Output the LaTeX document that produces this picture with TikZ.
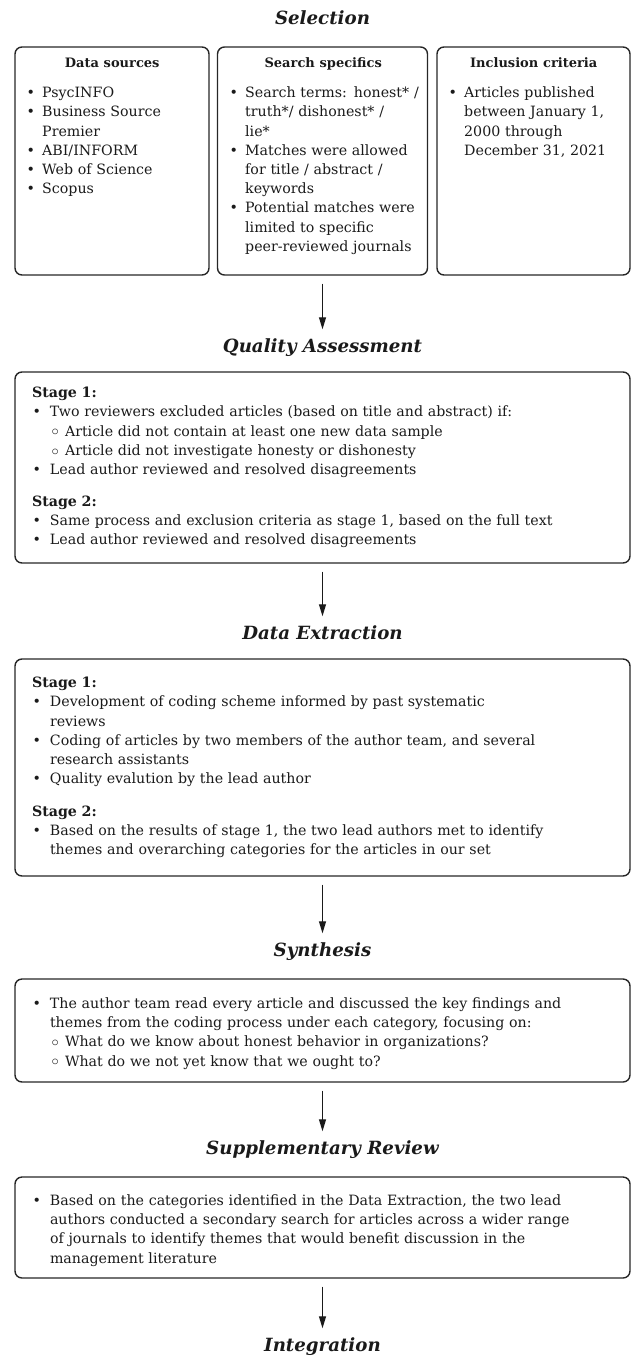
\documentclass[tikz,border=0pt]{standalone}
\usepackage{fontspec}
\setmainfont{DejaVu Serif}
\usetikzlibrary{arrows.meta}
\definecolor{ink}{HTML}{1A1A1A}
\definecolor{framecol}{HTML}{262626}
\setlength{\parskip}{0pt}
\newcommand{\bodyfont}{\fontsize{14.2}{19.2}\selectfont}
\newcommand{\headfont}{\fontsize{13}{19.2}\selectfont\bfseries}
\newcommand{\titlefont}{\fontsize{18.2}{22}\selectfont\bfseries\itshape}
\newcommand{\bit}[2][18pt]{\par\noindent\hangindent=#1\hangafter=1\makebox[#1][l]{\hspace{0.5pt}\textbullet}#2\par}
\newcommand{\subbul}{\hspace{1.5pt}\raisebox{0.2pt}{\smash{$\circ$}}}
\newcommand{\sit}[1]{\par\noindent\hangindent=33pt\hangafter=1\hspace*{18pt}\makebox[15pt][l]{\subbul}#1\par}
\tikzset{
  framebox/.style={draw=framecol, line width=1.4pt, rounded corners=7pt, inner sep=0pt},
  ttl/.style={font=\titlefont, text=ink, inner sep=0pt, text height=13pt, text depth=4pt},
  seltext/.style={font=\bodyfont, text=ink, inner sep=0pt, anchor=north west, align=left},
  widebox/.style={framebox, minimum width=615pt, text width=581pt, inner xsep=17pt, align=left, font=\bodyfont, text=ink},
  arr/.style={draw=ink, line width=1.1pt, -{Triangle[length=12pt,width=7pt]}, shorten <=8pt, shorten >=10pt}
}
\begin{document}
\begin{tikzpicture}[x=1pt,y=-1pt]
\useasboundingbox (0,0) rectangle (631,1357);
% ---------- Selection
\node[ttl] (t1) at (322.5,20) {Selection};
\node[framebox, minimum width=194pt, minimum height=228pt] (sel1) at (112,161) {};
\node[framebox, minimum width=210pt, minimum height=228pt] (sel2) at (322.5,161) {};
\node[framebox, minimum width=193pt, minimum height=228pt] (sel3) at (533.5,161) {};
\node[seltext, text width=172pt] (sel1t) at (26,54.06) {%
{\centering\headfont\strut Data sources\par}\vspace{10.8pt}%
\bit[16pt]{PsycINFO}%
\bit[16pt]{Business Source\newline Premier}%
\bit[16pt]{ABI/INFORM}%
\bit[16pt]{Web of Science}%
\bit[16pt]{Scopus}};
\node[seltext, text width=192pt] (sel2t) at (229,54.06) {%
{\centering\headfont\strut Search specifics\hspace*{4pt}\par}\vspace{10.8pt}%
\bit[16pt]{Search terms: honest* /\newline truth*/ dishonest* /\newline lie*}%
\bit[16pt]{Matches were allowed\newline for title / abstract /\newline keywords}%
\bit[16pt]{Potential matches were\newline limited to specific\newline peer-reviewed journals}};
\node[seltext, text width=171pt] (sel3t) at (448,54.06) {%
{\centering\headfont\strut Inclusion criteria\par}\vspace{10.8pt}%
\bit[16pt]{Articles published\newline between January 1,\newline 2000 through\newline December 31, 2021}};
% ---------- Quality Assessment
\node[ttl] (t2) at (322.5,348) {Quality Assessment};
\node[widebox, minimum height=191pt] (qa) at (322.5,467.5) {%
\noindent\strut\textbf{Stage 1:}\par
\bit{Two reviewers excluded articles (based on title and abstract) if:}%
\sit{Article did not contain at least one new data sample}%
\sit{Article did not investigate honesty or dishonesty}%
\bit{Lead author reviewed and resolved disagreements}%
\vspace{12.8pt}%
\noindent\textbf{Stage 2:}\par
\bit{Same process and exclusion criteria as stage 1, based on the full text}%
\bit{Lead author reviewed and resolved disagreements\strut}};
% ---------- Data Extraction
\node[ttl] (t3) at (322.5,635) {Data Extraction};
\node[widebox, minimum height=217pt] (de) at (322.5,767.5) {%
\noindent\strut\textbf{Stage 1:}\par
\bit{Development of coding scheme informed by past systematic\newline reviews}%
\bit{Coding of articles by two members of the author team, and several\newline research assistants}%
\bit{Quality evalution by the lead author}%
\vspace{13.5pt}%
\noindent\textbf{Stage 2:}\par
\bit{Based on the results of stage 1, the two lead authors met to identify\newline themes and overarching categories for the articles in our set\strut}};
% ---------- Synthesis
\node[ttl] (t4) at (322.5,952) {Synthesis};
\node[widebox, minimum height=103pt] (syn) at (322.5,1030.5) {%
\bit{\strut The author team read every article and discussed the key findings and\newline themes from the coding process under each category, focusing on:}%
\sit{What do we know about honest behavior in organizations?}%
\sit{What do we not yet know that we ought to?\strut}};
% ---------- Supplementary Review
\node[ttl] (t5) at (322.5,1150) {Supplementary Review};
\node[widebox, minimum height=101pt] (sr) at (322.5,1227.5) {%
\bit{\strut Based on the categories identified in the Data Extraction, the two lead\newline authors conducted a secondary search for articles across a wider range\newline of journals to identify themes that would benefit discussion in the\newline management literature\strut}};
% ---------- Integration
\node[ttl] (t6) at (322.5,1347) {Integration};
% ---------- arrows
\draw[arr] (sel2.south) -- (t2.north);
\draw[arr] (qa.south) -- (t3.north);
\draw[arr] (de.south) -- (t4.north);
\draw[arr] (syn.south) -- (t5.north);
\draw[arr] (sr.south) -- (t6.north);
\end{tikzpicture}
\end{document}
